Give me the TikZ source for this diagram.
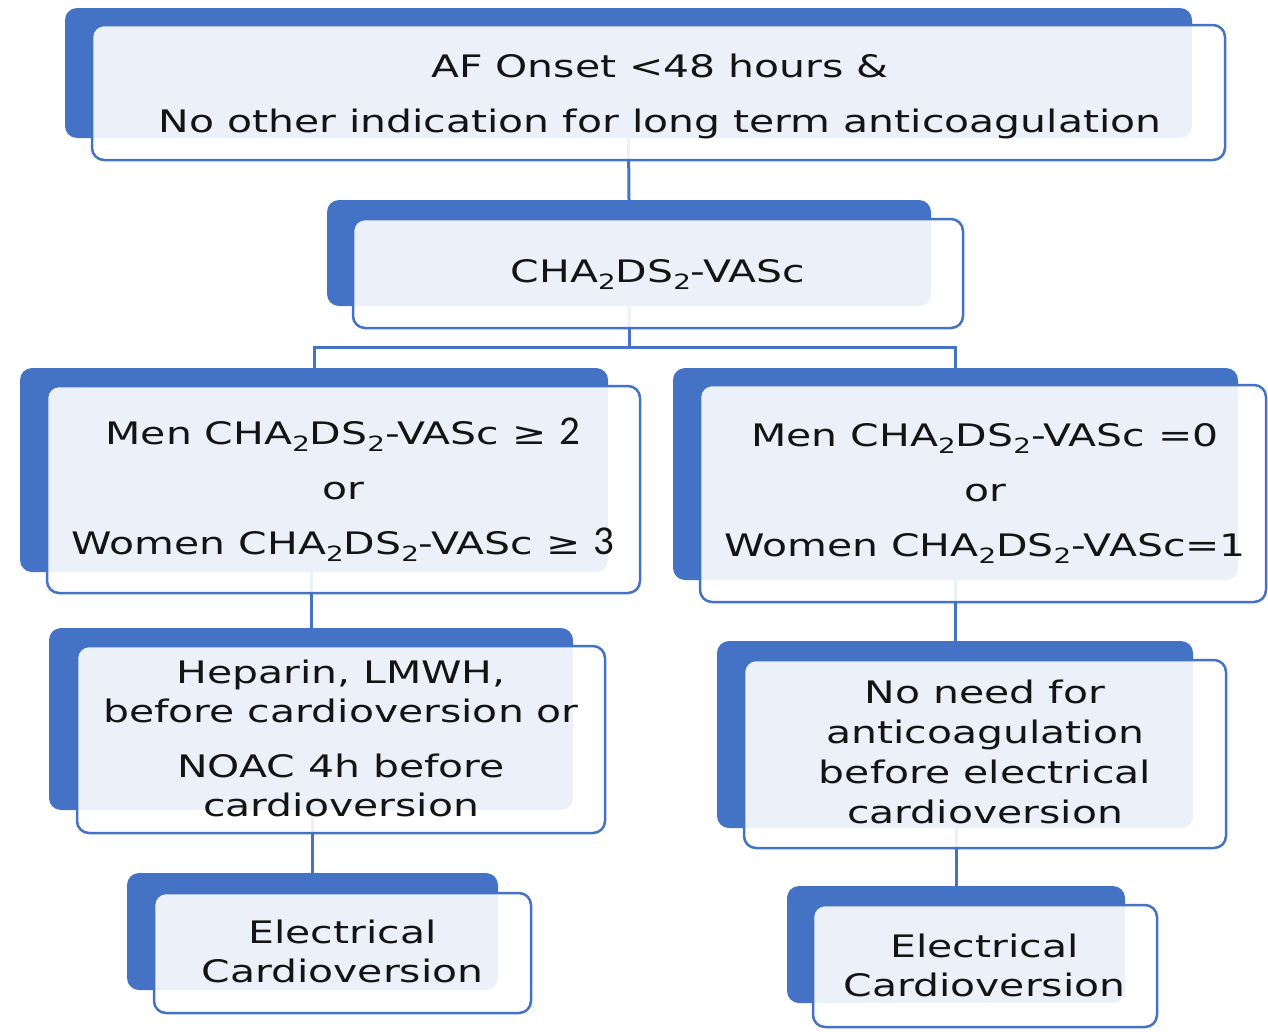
\documentclass[tikz,border=0pt]{standalone}
\usepackage{fontspec}
\newfontfamily\boxfont[FakeStretch=1.32]{DejaVu Sans}
\newfontfamily\digfont{Carlito}
\newcommand{\subtwo}{\raisebox{-7pt}{\fontsize{21}{21}\selectfont 2}}
\newcommand{\bigdig}[1]{{\digfont\fontsize{41}{41}\selectfont #1}}
\definecolor{accent}{HTML}{4472C4}
\pgfdeclarelayer{background}
\pgfsetlayers{background,main}
\begin{document}
\begin{tikzpicture}[x=1pt,y=-1pt,
  backbox/.style={fill=accent, draw=none, rounded corners=12pt, inner sep=0pt},
  frontbox/.style={fill=white, fill opacity=0.9, draw=accent, line width=2.5pt, rounded corners=12pt, inner sep=0pt},
  conn/.style={draw=accent, line width=3pt},
  label/.style={font=\boxfont\fontsize{31}{39}\selectfont, align=center, text=black!92, inner sep=0pt},
]
\useasboundingbox (0,0) rectangle (1268,1031);

% back boxes
\node[backbox, minimum width=1127pt, minimum height=130pt] (b1) at (628.5,73) {};
\node[backbox, minimum width=604pt, minimum height=106pt] (b2) at (629,253) {};
\node[backbox, minimum width=588pt, minimum height=204pt] (b3) at (314,470) {};
\node[backbox, minimum width=565pt, minimum height=212pt] (b4) at (955.5,474) {};
\node[backbox, minimum width=524pt, minimum height=182pt] (b5) at (311,719) {};
\node[backbox, minimum width=476pt, minimum height=187pt] (b6) at (955,734.5) {};
\node[backbox, minimum width=371pt, minimum height=117pt] (b7) at (312.5,931.5) {};
\node[backbox, minimum width=338pt, minimum height=117pt] (b8) at (956,944.5) {};

% front boxes
\node[frontbox, minimum width=1133pt, minimum height=135pt] (f1) at (658.5,92.5) {};
\node[frontbox, minimum width=610pt, minimum height=109pt] (f2) at (658,273.5) {};
\node[frontbox, minimum width=593pt, minimum height=207pt] (f3) at (343.5,489.5) {};
\node[frontbox, minimum width=566pt, minimum height=217pt] (f4) at (983,493.5) {};
\node[frontbox, minimum width=528pt, minimum height=187pt] (f5) at (341,739.5) {};
\node[frontbox, minimum width=482pt, minimum height=188pt] (f6) at (985,754) {};
\node[frontbox, minimum width=377pt, minimum height=120pt] (f7) at (342.5,953) {};
\node[frontbox, minimum width=344pt, minimum height=122pt] (f8) at (985,966) {};

% texts
\node[label] (t1) at (660,96) {AF Onset <48 hours \&\\[16pt] No other indication for long term anticoagulation};
\node[label] (t2) at (658,274) {CHA\subtwo DS\subtwo-VASc};
\node[label] (t3) at (343,490) {Men CHA\subtwo DS\subtwo-VASc ≥ \bigdig{2}\\[16pt] or\\[16pt] Women CHA\subtwo DS\subtwo-VASc ≥ \bigdig{3}};
\node[label] (t4) at (985,493) {Men CHA\subtwo DS\subtwo-VASc =0\\[16pt] or\\[16pt] Women CHA\subtwo DS\subtwo-VASc=1};
\node[label] (t5) at (341,738) {Heparin, LMWH,\\ before cardioversion or\\[16pt] NOAC 4h before\\ cardioversion};
\node[label] (t6) at (985,752) {No need for\\[1pt] anticoagulation\\[1pt] before electrical\\[1pt] cardioversion};
\node[label] (t7) at (342.5,951) {Electrical\\ Cardioversion};
\node[label] (t8) at (984.5,965) {Electrical\\ Cardioversion};

% connectors behind
\begin{pgfonlayer}{background}
\fill[white] (0,0) rectangle (1268,1031);
\path (b2.south) ++(0,41) coordinate (split);
\draw[conn] (b1.south) -- (b2.north);
\draw[conn] (b2.south) -- (split) -| (b3.north);
\draw[conn] (split) -| (b4.north);
\draw[conn] (b3.south -| b5.north) -- (b5.north);
\draw[conn] (b5.south -| b7.north) -- (b7.north);
\draw[conn] (b4.south -| b6.north) -- (b6.north);
\draw[conn] (b6.south -| b8.north) -- (b8.north);
\end{pgfonlayer}
\end{tikzpicture}
\end{document}
